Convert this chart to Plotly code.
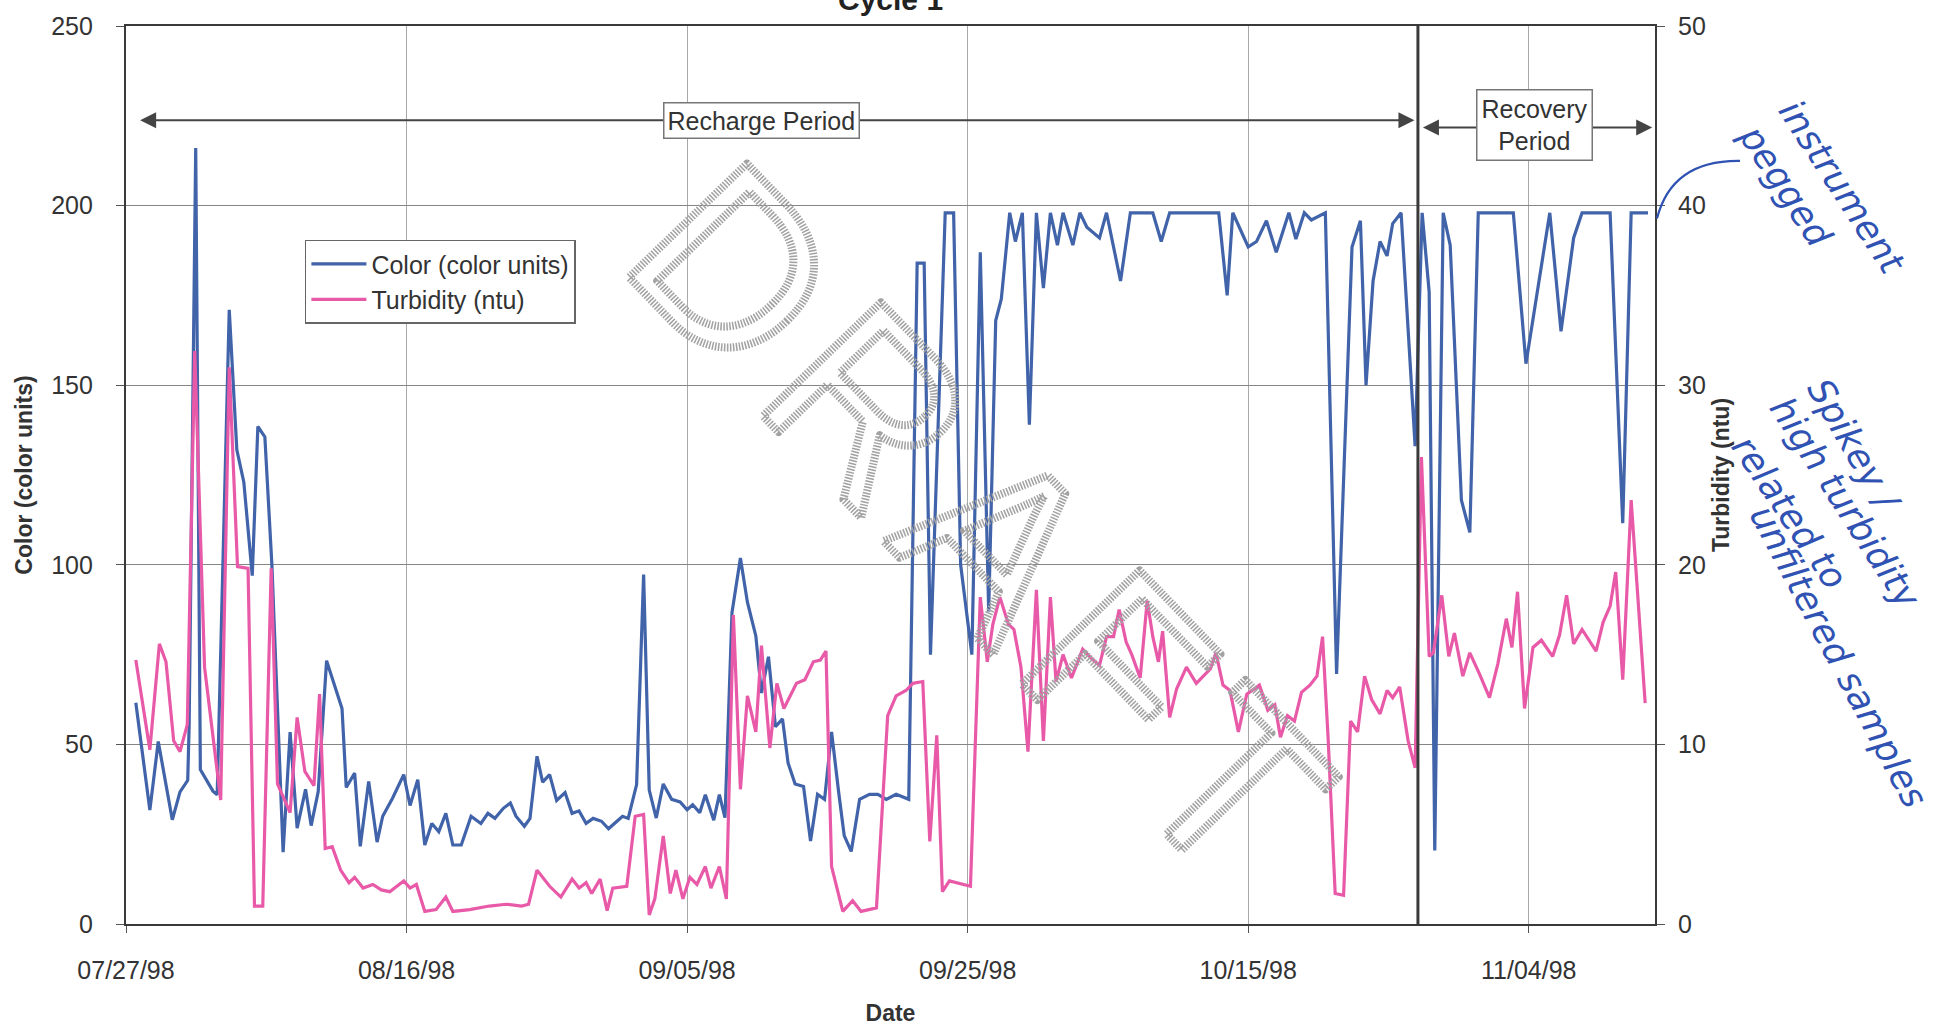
import datetime as dt
import plotly.graph_objects as go

# Sampling times are stored as days elapsed since the start of Cycle 1.
START = dt.datetime(1998, 7, 27)

color_day = [0.7, 1.7, 2.3, 3.3, 3.85, 4.4, 4.5, 4.97, 5.3, 6.2,
             6.5, 7.36, 7.9, 8.4, 9.0, 9.4, 9.9, 10.4, 11.2, 11.7,
             12.2, 12.8, 13.2, 13.7, 14.3, 15.4, 15.7, 16.3, 16.7, 17.3,
             17.9, 18.3, 19.0, 19.8, 20.25, 20.8, 21.3, 21.8, 22.3, 22.8,
             23.3, 23.9, 24.6, 25.3, 25.8, 26.3, 26.9, 27.4, 27.8, 28.4,
             28.8, 29.3, 29.7, 30.2, 30.7, 31.3, 31.8, 32.3, 32.8, 33.3,
             33.9, 34.4, 35.0, 35.4, 35.8, 36.4, 36.9, 37.3, 37.8, 38.3,
             38.9, 39.5, 40.0, 40.4, 40.9, 41.3, 41.9, 42.3, 42.7, 43.2,
             43.8, 44.3, 44.9, 45.3, 45.8, 46.3, 46.8, 47.2, 47.7, 48.3,
             48.8, 49.3, 49.8, 50.3, 50.8, 51.2, 51.7, 52.3, 53.0, 53.6,
             54.2, 54.9, 55.8, 56.4, 56.9, 57.35, 58.4, 59.0, 59.5, 60.3,
             60.9, 61.5, 62.0, 62.4, 63.0, 63.4, 63.9, 64.4, 64.9, 65.4,
             65.9, 66.4, 66.8, 67.5, 68.0, 68.5, 69.4, 69.9, 70.9, 71.6,
             72.5, 73.2, 73.8, 74.4, 77.9, 78.5, 78.9, 80.0, 80.6, 81.3,
             82.0, 82.9, 83.4, 84.0, 84.5, 85.5, 86.3, 87.4, 88.0, 88.4,
             88.9, 89.4, 89.9, 90.3, 90.9, 91.9, 92.4, 92.9, 93.3, 93.9,
             94.4, 95.2, 95.8, 96.4, 98.9, 99.8, 101.5, 102.3, 103.2, 103.8,
             105.8, 106.7, 107.3, 108.5]

color_units = [61.6, 31.7, 50.8, 29, 36.8, 40, 55, 216, 43, 37,
               36, 171, 132, 123, 97, 138.5, 135.6, 100, 20, 53.4,
               26.7, 37.5, 27.4, 36.8, 73.3, 60, 38, 42, 21.6, 39.7,
               22.8, 30, 35, 41.6, 33, 40.2, 22, 28, 25.7, 30.8,
               22, 22, 30, 28, 30.8, 29.4, 32.2, 33.7, 30, 27.2,
               29.4, 46.7, 39.5, 41.6, 34.4, 36.6, 30.8, 31.5, 28, 29.4,
               28.6, 26.5, 28.6, 30, 29.4, 38.8, 97.3, 37.3, 29.5, 39,
               34.7, 34, 31.8, 33.2, 31, 36, 28.9, 36, 29.6, 86.7,
               101.9, 89.6, 80.2, 64.3, 74.4, 54.9, 57.1, 44.8, 39, 38.3,
               23.1, 36.1, 34.7, 53.5, 36.8, 24.6, 20.2, 34.7, 36.1, 36.1,
               34.7, 36.1, 34.7, 184, 184, 75, 198, 198, 100, 75,
               187, 87, 168, 174, 198, 190, 198, 139, 198, 177,
               198, 189, 198, 189, 198, 194, 191, 198, 179, 198,
               198, 198, 190, 198, 198, 175, 198, 188.5, 190, 195.8,
               187, 198, 190.7, 198, 196, 198, 69.6, 188.5, 195.8, 150,
               179, 190, 186, 195, 198, 133, 198, 176, 20.5, 198,
               189, 118, 109, 198, 198, 156, 198, 165, 191, 198,
               198, 111.6, 198, 198]

turb_day = [0.7, 1.7, 2.38, 2.85, 3.4, 3.85, 4.37, 4.9, 5.6, 6.75,
            7.36, 7.95, 8.7, 9.16, 9.75, 10.35, 10.8, 11.7, 12.2, 12.75,
            13.4, 13.8, 14.2, 14.7, 15.3, 15.9, 16.3, 16.9, 17.6, 18.2,
            18.8, 19.8, 20.25, 20.7, 21.3, 22.1, 22.8, 23.3, 24.5, 25.9,
            27.1, 28.2, 28.7, 29.3, 30.2, 31.0, 31.8, 32.3, 32.8, 33.2,
            33.8, 34.3, 34.7, 35.7, 36.3, 36.9, 37.3, 37.7, 38.3, 38.8,
            39.2, 39.7, 40.2, 40.7, 41.3, 41.7, 42.3, 42.8, 43.3, 43.8,
            44.3, 44.9, 45.3, 45.9, 46.4, 46.9, 47.8, 48.4, 49.0, 49.5,
            49.9, 50.3, 51.1, 51.8, 52.4, 53.5, 54.3, 54.9, 55.6, 56.1,
            56.8, 57.3, 57.8, 58.2, 58.7, 60.2, 60.9, 61.4, 61.8, 62.3,
            62.9, 63.3, 63.8, 64.3, 64.9, 65.4, 65.9, 66.3, 66.8, 67.4,
            68.2, 68.8, 69.4, 69.9, 70.4, 70.8, 71.3, 71.7, 72.3, 72.8,
            73.2, 73.6, 73.9, 74.4, 74.9, 75.6, 76.3, 77.3, 77.7, 78.2,
            78.7, 79.3, 79.9, 80.8, 81.4, 81.9, 82.3, 82.8, 83.3, 83.8,
            84.4, 84.9, 85.3, 85.7, 86.2, 86.8, 87.3, 87.8, 88.3, 88.8,
            89.4, 89.9, 90.3, 90.8, 91.4, 91.9, 92.35, 92.9, 93.2, 93.8,
            94.3, 94.7, 95.3, 95.8, 96.5, 97.2, 97.8, 98.4, 98.8, 99.2,
            99.7, 100.3, 100.9, 101.7, 102.2, 102.7, 103.2, 103.8, 104.8, 105.3,
            105.8, 106.2, 106.7, 107.3, 108.3]

turbidity_ntu = [14.7, 9.7, 15.6, 14.6, 10.2, 9.6, 11.1, 31.9, 14.3, 6.9,
                 31, 19.9, 19.8, 1.0, 1.0, 19.8, 7.8, 6.2, 11.5, 8.5,
                 7.7, 12.8, 4.2, 4.3, 3.0, 2.3, 2.6, 2.0, 2.2, 1.9,
                 1.8, 2.4, 2.0, 2.2, 0.7, 0.8, 1.5, 0.7, 0.8, 1.0,
                 1.1, 1.0, 1.1, 3.0, 2.1, 1.5, 2.5, 2.0, 2.3, 1.7,
                 2.5, 0.75, 2.0, 2.1, 6.0, 6.1, 0.5, 1.4, 4.9, 1.7,
                 3.0, 1.4, 2.6, 2.2, 3.2, 2.0, 3.2, 1.4, 17.2, 7.5,
                 12.7, 10.7, 15.5, 9.8, 13.4, 12.0, 13.4, 13.6, 14.6, 14.7,
                 15.2, 3.2, 0.7, 1.3, 0.7, 0.9, 11.6, 12.7, 13.0, 13.4,
                 13.5, 4.6, 10.5, 1.8, 2.4, 2.1, 18.2, 14.6, 16.7, 18.2,
                 16.7, 16.4, 14.3, 9.6, 18.6, 10.2, 18.2, 13.5, 15.0, 13.7,
                 15.3, 14.8, 14.4, 16.0, 16.0, 17.5, 15.7, 15.0, 13.7, 18.0,
                 16.0, 14.6, 16.3, 11.5, 13.1, 14.3, 13.4, 14.2, 15.1, 13.3,
                 13.0, 10.7, 12.8, 13.3, 11.9, 12.2, 10.4, 11.6, 11.3, 12.9,
                 13.3, 13.8, 16.0, 10.3, 1.7, 1.6, 11.3, 10.7, 13.8, 12.5,
                 11.7, 13.0, 12.6, 13.2, 10.2, 8.7, 26.0, 14.9, 15.1, 18.3,
                 14.9, 16.2, 13.8, 15.1, 13.9, 12.6, 14.5, 17.0, 15.4, 18.5,
                 12.0, 15.4, 15.8, 14.9, 16.1, 18.3, 15.6, 16.4, 15.2, 16.8,
                 17.7, 19.6, 13.6, 23.6, 12.3]

# Period boundaries (days since start)
recovery_start_day = 92.1
axis_end_day = 109

BLUE = "#4163a9"
PINK = "#e85aa8"
INK = "#2f52b3"
FONT = "Liberation Sans, Arial, sans-serif"


def when(day):
    return START + dt.timedelta(days=day)


def when_str(day):
    return when(day).strftime("%Y-%m-%d %H:%M")


fig = go.Figure()
fig.add_trace(go.Scatter(
    x=[when(d) for d in color_day], y=color_units, name="Color (color units)",
    mode="lines", line=dict(color=BLUE, width=3.2), yaxis="y"))
fig.add_trace(go.Scatter(
    x=[when(d) for d in turb_day], y=turbidity_ntu, name="Turbidity (ntu)",
    mode="lines", line=dict(color=PINK, width=3.2), yaxis="y2"))

pen_font = dict(size=36, color=INK, family="DejaVu Sans", style="italic")

annotations = [
    # chart title, partly above the page edge
    dict(text="<b>Cycle 1</b>", xref="paper", yref="paper", x=0.5, y=1.009,
         xanchor="center", yanchor="bottom", showarrow=False,
         font=dict(size=30, color="#222")),
    # period arrows
    dict(text="", xref="x", yref="paper", axref="x", ayref="pixel",
         x=when_str(recovery_start_day - 0.25), y=0.895,
         ax=when_str(0.9), ay=0, showarrow=True, arrowside="end+start",
         arrowhead=2, arrowsize=1.6, arrowwidth=2, arrowcolor="#444"),
    dict(text="", xref="x", yref="paper", axref="x", ayref="pixel",
         x=when_str(axis_end_day - 0.2), y=0.887,
         ax=when_str(recovery_start_day + 0.25), ay=0, showarrow=True,
         arrowside="end+start", arrowhead=2, arrowsize=1.6, arrowwidth=2,
         arrowcolor="#444"),
    dict(text="Recharge Period", xref="x", yref="paper", x=when_str(45.3), y=0.895,
         xanchor="center", yanchor="middle",
         showarrow=False, bgcolor="white", bordercolor="#777", borderwidth=1.5,
         borderpad=3, font=dict(size=25, color="#333")),
    dict(text="Recovery<br>Period", xref="x", yref="paper", x=when_str(100.4), y=0.8895,
         xanchor="center", yanchor="middle",
         showarrow=False, bgcolor="white", bordercolor="#777", borderwidth=1.5,
         borderpad=4, font=dict(size=25, color="#333")),
    # watermark
    dict(text="DRAFT", xref="paper", yref="paper", x=0.5625, y=0.440,
         xanchor="center", yanchor="middle",
         showarrow=False, textangle=46,
         font=dict(size=238, color="#a6a6a6", family=FONT)),
    # pen notes in the margin
    dict(text="instrument<br>pegged", xref="paper", yref="paper", x=1.109, y=0.807,
         xanchor="center", yanchor="middle",
         showarrow=False, textangle=57, align="left", font=pen_font),
    dict(text="Spikey /", xref="paper", yref="paper", x=1.1300, y=0.5326,
         xanchor="center", yanchor="middle", showarrow=False, textangle=60,
         font=pen_font),
    dict(text="high turbidity", xref="paper", yref="paper", x=1.1243, y=0.4696,
         xanchor="center", yanchor="middle", showarrow=False, textangle=57,
         font=pen_font),
    dict(text="related to", xref="paper", yref="paper", x=1.0883, y=0.4586,
         xanchor="center", yanchor="middle", showarrow=False, textangle=56,
         font=pen_font),
    dict(text="unfiltered samples", xref="paper", yref="paper", x=1.1203, y=0.2983,
         xanchor="center", yanchor="middle", showarrow=False, textangle=62,
         font=pen_font),
]

shapes = [
    dict(type="line", xref="x", yref="paper",
         x0=when_str(recovery_start_day), x1=when_str(recovery_start_day), y0=0, y1=1,
         line=dict(color="#3a3a3a", width=3)),
    # pen stroke linking the note to the 40 ntu tick
    dict(type="path", xref="paper", yref="paper",
         path="M 1.0013,0.7856 Q 1.0111,0.8508 1.0556,0.8497",
         line=dict(color=INK, width=2.2)),
]

fig.update_layout(
    width=1933, height=1034,
    margin=dict(l=126, r=278, t=22, b=107),
    paper_bgcolor="white", plot_bgcolor="white",
    font=dict(family=FONT, size=25, color="#333"),
    showlegend=True,
    legend=dict(x=0.117, y=0.762, xanchor="left", yanchor="top",
                bgcolor="white", bordercolor="#666", borderwidth=1.5,
                font=dict(size=25, color="#333"), itemwidth=55,
                tracegroupgap=0),
    xaxis=dict(
        type="date", range=[START, when(axis_end_day)],
        tick0=START, dtick=20 * 86400000, tickformat="%m/%d/%y",
        showgrid=True, gridcolor="#a9a9a9", gridwidth=1.2,
        showline=True, linecolor="#3a3a3a", linewidth=2.2, mirror=True,
        ticks="outside", ticklen=7, tickcolor="#555", ticklabelstandoff=16,
        zeroline=False,
        title=dict(text="<b>Date</b>", font=dict(size=23, color="#333"), standoff=22)),
    yaxis=dict(
        range=[0, 250], dtick=50, showgrid=True, gridcolor="#858585", gridwidth=1.3,
        showline=True, linecolor="#3a3a3a", linewidth=2.2,
        ticks="outside", ticklen=8, tickcolor="#555", ticklabelstandoff=18,
        zeroline=False,
        title=dict(text="<b>Color (color units)</b>", font=dict(size=23, color="#333"),
                   standoff=12)),
    yaxis2=dict(
        range=[0, 50], dtick=10, overlaying="y", side="right", showgrid=False,
        showline=True, linecolor="#3a3a3a", linewidth=2.2,
        ticks="outside", ticklen=8, tickcolor="#555", ticklabelstandoff=8,
        zeroline=False,
        title=dict(text="<b>Turbidity (ntu)</b>", font=dict(size=23, color="#333"),
                   standoff=8)),
    annotations=annotations,
    shapes=shapes,
)

# Render the watermark as hollow, hatched, widely spaced letter outlines.
outline_js = """
var gd = document.getElementById('{plot_id}');
function outlineDraft() {
  gd.querySelectorAll('text.annotation-text').forEach(function (t) {
    if (t.textContent === 'DRAFT') {
      t.style.fill = 'none';
      t.style.stroke = '#a2a2a2';
      t.style.strokeWidth = '8px';
      t.style.strokeDasharray = '1.5 1.5';
      t.style.strokeLinejoin = 'round';
      t.style.letterSpacing = '21px';
    }
  });
}
outlineDraft();
gd.on('plotly_afterplot', outlineDraft);
"""

fig.write_html("out.html", post_script=outline_js)
